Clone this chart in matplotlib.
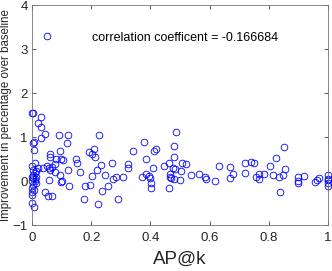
import numpy as np
import matplotlib.pyplot as plt

plt.rcParams['font.family'] = ['Liberation Sans', 'DejaVu Sans']

# AP@k vs improvement
ap_k = [
    0.052,
    # x close to 0 .. 0.2, upper part
    0.0, 0.002, 0.031, 0.02, 0.031, 0.043, 0.031, 0.091, 0.122, 0.119,
    0.002, 0.008, 0.007, 0.06, 0.096, 0.082, 0.099, 0.149, 0.192,
    # x close to 0 .. 0.2, lower part
    0.009, 0.0, 0.02, 0.037, 0.056, 0.062, 0.105, 0.077, 0.122, 0.161,
    0.077, 0.093, 0.011, 0.003, 0.0, 0.009, 0.0, 0.015, 0.102, 0.099,
    0.056, 0.0, 0.0, 0.007, 0.0, 0.043, 0.054, 0.068, 0.126, 0.18,
    0.175, 0.0, 0.007, 0.005, 0.012, 0.004, 0.013, 0.003, 0.01, 0.067,
    0.05, 0.06, 0.151,
    # 0.2 .. 0.4
    0.227, 0.21, 0.202, 0.213, 0.342, 0.377, 0.269, 0.325, 0.323, 0.232,
    0.221, 0.204, 0.385, 0.37, 0.306, 0.283, 0.273, 0.258, 0.196, 0.238,
    0.29, 0.224, 0.248,
    # 0.4 .. 0.6
    0.488, 0.479, 0.419, 0.413, 0.481, 0.409, 0.445, 0.507, 0.521, 0.484,
    0.505, 0.385, 0.396, 0.40, 0.467, 0.467, 0.47, 0.479, 0.501, 0.538,
    0.565, 0.583, 0.589, 0.403, 0.403, 0.464, 0.464, 0.477,
    # 0.6 .. 1
    0.618, 0.633, 0.669, 0.67, 0.678, 0.72, 0.74, 0.749, 0.72, 0.757,
    0.766, 0.768, 0.783, 0.805, 0.824, 0.815, 0.835, 0.849, 0.856, 0.852,
    0.838, 0.90, 0.90, 0.90, 0.918, 0.957, 0.964, 0.968,
    1.0, 1.0, 1.0, 1.0, 1.0,
]
improvement = [
    3.30,
    1.55, 1.54, 1.45, 1.32, 1.22, 1.06, 0.98, 1.05, 1.04, 0.87,
    0.87, 0.88, 0.70, 0.61, 0.69, 0.50, 0.50, 0.50, 0.65,
    0.42, 0.35, 0.30, 0.30, 0.29, 0.25, 0.48, 0.38, 0.25, 0.20,
    0.20, 0.14, 0.18, 0.14, 0.10, 0.05, 0.0, -0.05, 0.01, -0.03,
    0.02, -0.17, -0.24, -0.20, -0.32, -0.26, -0.33, -0.35, -0.12, -0.12,
    -0.40, -0.49, -0.58, 0.25, 0.22, 0.06, 0.10, -0.08, 0.0, 0.31,
    0.33, 0.55, 0.40,
    1.05, 0.73, 0.61, 0.55, 0.69, 0.89, 0.42, 0.38, 0.30, 0.36,
    0.25, 0.12, 0.49, 0.08, 0.08, 0.08, 0.04, -0.11, -0.10, -0.23,
    -0.41, -0.52, 0.14,
    1.12, 0.80, 0.73, 0.69, 0.54, 0.30, 0.35, 0.40, 0.39, 0.27,
    0.23, 0.17, 0.12, 0.06, 0.17, 0.10, 0.06, 0.05, 0.02, 0.14,
    0.16, 0.10, 0.05, -0.05, -0.17, -0.17, 0.40, 0.29,
    0.0, 0.33, 0.31, 0.06, 0.15, 0.42, 0.44, 0.42, 0.19, 0.10,
    0.15, 0.04, 0.15, 0.34, 0.53, 0.14, 0.08, 0.14, 0.27, 0.78,
    -0.26, 0.10, 0.0, -0.04, 0.12, -0.03, 0.02, 0.06,
    0.13, 0.05, 0.02, -0.04, -0.11,
]

fig = plt.figure(figsize=(3.32, 2.71), dpi=100)
ax = fig.add_axes([0.0964, 0.1697, 0.8916, 0.8118])

ax.plot(ap_k, improvement, 'o', markerfacecolor='none', markeredgecolor='blue',
        markersize=4.8, markeredgewidth=0.6, linestyle='none', clip_on=False)

ax.set_xlim(0, 1)
ax.set_ylim(-1, 4)
ax.set_xticks([0, 0.2, 0.4, 0.6, 0.8, 1])
ax.set_xticklabels(['0', '0.2', '0.4', '0.6', '0.8', '1'])
ax.set_yticks([-1, 0, 1, 2, 3, 4])

ax.tick_params(direction='in', top=True, right=True, length=3, width=0.6,
               color='0.25', labelsize=9.5, labelcolor='0.15')
ax.tick_params(axis='x', pad=5)
ax.tick_params(axis='y', pad=3)
for s in ax.spines.values():
    s.set_color('0.45')
    s.set_linewidth(0.6)

ax.set_xlabel('AP@k', fontsize=13.5, labelpad=5, color='0.15')
ax.set_ylabel('Improvement in percentage over baseline', fontsize=8.3,
              color='0.15')
ax.yaxis.set_label_coords(-0.066, 0.5)

ax.text(0.203, 3.25, 'correlation coefficent = -0.166684', fontsize=9,
        va='center', ha='left')

fig.savefig('out.png', dpi=100)
